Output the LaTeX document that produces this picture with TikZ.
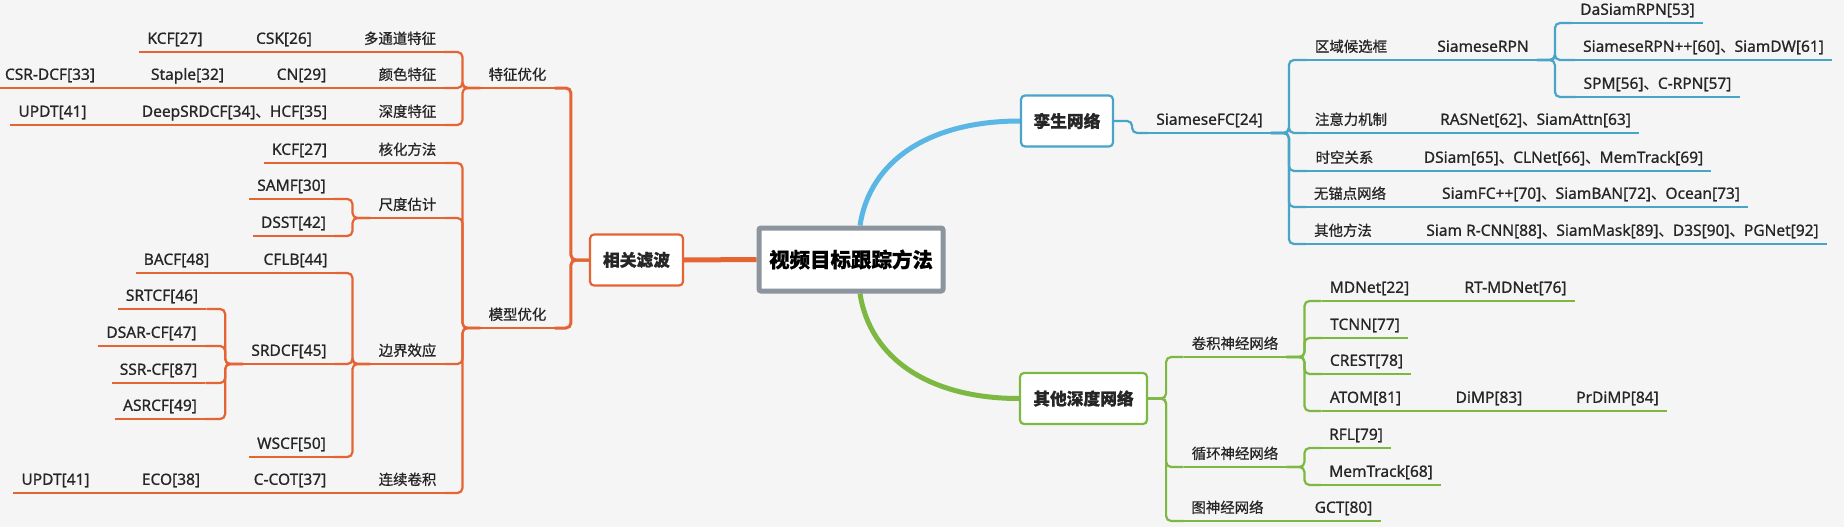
\documentclass[tikz,border=0pt]{standalone}
\usepackage{fontspec}
\setmainfont{Noto Sans}[FakeBold=0.8]
\newfontfamily\cjk[Scale=0.93, FakeBold=0.8]{Noto Sans CJK SC}
\usepackage{tikz}
\usetikzlibrary{positioning,calc}
\usepackage{xcolor}
\definecolor{orL}{RGB}{229,100,52}
\definecolor{blL}{RGB}{72,165,200}
\definecolor{blC}{RGB}{90,182,228}
\definecolor{grL}{RGB}{124,184,66}
\definecolor{grB}{RGB}{140,148,158}
\definecolor{bgc}{RGB}{245,245,245}
\definecolor{txt}{RGB}{38,38,38}
\newcommand{\dun}{{\cjk 、}}
\pgfdeclarelayer{bg}
\pgfsetlayers{bg,main}

\begin{document}
\begin{tikzpicture}[x=1pt, y=-1pt,
    tp/.style={text=txt, inner xsep=8pt, inner ysep=4pt, text height=11pt, text depth=4pt,
        anchor=south, font=\fontsize{15.5}{18}\selectfont,
        append after command={(\tikzlastnode.south west) edge[ul] (\tikzlastnode.south east)}},
    ul/.style={draw, line width=2.2pt},
    box/.style={rectangle, draw, rounded corners=4pt, line width=2.2pt, fill=white, text=txt,
        minimum height=51pt, font=\fontsize{18}{20}\selectfont\cjk\bfseries},
    ln/.style={line width=2.2pt, rounded corners=5pt},
    lc/.style={to path={-- ([xshift=-18pt]\tikztostart) |- (\tikztotarget)}},
    rc/.style={to path={-- ([xshift=18pt]\tikztostart) |- (\tikztotarget)}}
]
\useasboundingbox (0,0) rectangle (1844,527);
\begin{pgfonlayer}{bg}
\fill[bgc] (0,0) rectangle (1844,527);
\end{pgfonlayer}

% root
\node[rectangle, draw=grB, line width=5pt, rounded corners=2pt, fill=white, text=black,
    minimum width=184pt, minimum height=63pt, font=\fontsize{22}{24}\selectfont\cjk\bfseries]
    (ctr) at (851,259.5) {视频目标跟踪方法};

% correlation filter side
\begin{scope}[color=orL]
\node[box, draw=orL, minimum width=93pt] (xg) at (636.5,260) {相关滤波};
\node[tp] (tz) at (517.5,88) {\cjk 特征优化};
\node[tp] (mx) at (517.5,328) {\cjk 模型优化};
\node[tp] (a1) at (175,52) {KCF[27]};
\node[tp] (a2) at (284,52) {CSK[26]};
\node[tp] (a3) at (400,52) {\cjk 多通道特征};
\node[tp] (b1) at (50,88) {CSR-DCF[33]};
\node[tp] (b2) at (187.5,88) {Staple[32]};
\node[tp] (b3) at (301.5,88) {CN[29]};
\node[tp] (b4) at (407.5,88) {\cjk 颜色特征};
\node[tp] (c1) at (52.5,125) {UPDT[41]};
\node[tp] (c2) at (234.5,125) {DeepSRDCF[34]\dun HCF[35]};
\node[tp] (c3) at (407.5,125) {\cjk 深度特征};
\node[tp] (d1) at (299.5,163) {KCF[27]};
\node[tp] (d2) at (407.5,163) {\cjk 核化方法};
\node[tp] (e1) at (291.5,199) {SAMF[30]};
\node[tp] (f) at (407.5,218) {\cjk 尺度估计};
\node[tp] (g1) at (293.5,236) {DSST[42]};
\node[tp] (h1) at (176.5,273) {BACF[48]};
\node[tp] (h2) at (295.5,273) {CFLB[44]};
\node[tp] (i1) at (162,309) {SRTCF[46]};
\node[tp] (k1) at (151.5,346) {DSAR-CF[47]};
\node[tp] (l1) at (289,364) {SRDCF[45]};
\node[tp] (l2) at (407.5,364) {\cjk 边界效应};
\node[tp] (m1) at (158.5,383) {SSR-CF[87]};
\node[tp] (n1) at (160,419) {ASRCF[49]};
\node[tp] (o1) at (291.5,457) {WSCF[50]};
\node[tp] (p1) at (55.5,493) {UPDT[41]};
\node[tp] (p2) at (171,493) {ECO[38]};
\node[tp] (p3) at (290,493) {C-COT[37]};
\node[tp] (p4) at (407.5,493) {\cjk 连续卷积};
\end{scope}

% siamese side
\begin{scope}[color=blL]
\node[box, draw=blL, minimum width=92pt] (sx) at (1067,121) {孪生网络};
\node[tp] (r0) at (1209.5,133) {SiameseFC[24]};
\node[tp] (q1) at (1351,60) {\cjk 区域候选框};
\node[tp] (q2) at (1483,60) {SiameseRPN};
\node[tp] (u1) at (1637.5,23) {DaSiamRPN[53]};
\node[tp] (u2) at (1703.5,60) {SiameseRPN++[60]\dun SiamDW[61]};
\node[tp] (u3) at (1657.5,97) {SPM[56]\dun C-RPN[57]};
\node[tp] (q3) at (1351,133) {\cjk 注意力机制};
\node[tp] (q4) at (1535.5,133) {RASNet[62]\dun SiamAttn[63]};
\node[tp] (q5) at (1344.5,171) {\cjk 时空关系};
\node[tp] (q6) at (1563.5,171) {DSiam[65]\dun CLNet[66]\dun MemTrack[69]};
\node[tp] (q7) at (1350,207) {\cjk 无锚点网络};
\node[tp] (q8) at (1591,207) {SiamFC++[70]\dun SiamBAN[72]\dun Ocean[73]};
\node[tp] (q9) at (1343,244) {\cjk 其他方法};
\node[tp] (q10) at (1622.5,244) {Siam R-CNN[88]\dun SiamMask[89]\dun D3S[90]\dun PGNet[92]};
\end{scope}

% other deep networks side
\begin{scope}[color=grL]
\node[box, draw=grL, minimum width=127pt] (qt) at (1083.5,398.5) {其他深度网络};
\node[tp] (w1) at (1235,357) {\cjk 卷积神经网络};
\node[tp] (v1) at (1369.5,301) {MDNet[22]};
\node[tp] (v2) at (1515.5,301) {RT-MDNet[76]};
\node[tp] (v3) at (1365,338) {TCNN[77]};
\node[tp] (v4) at (1366.5,374) {CREST[78]};
\node[tp] (v5) at (1365.5,411) {ATOM[81]};
\node[tp] (v6) at (1489,411) {DiMP[83]};
\node[tp] (v7) at (1617.5,411) {PrDiMP[84]};
\node[tp] (w2) at (1235,467) {\cjk 循环神经网络};
\node[tp] (v8) at (1356,448) {RFL[79]};
\node[tp] (v9) at (1381,485) {MemTrack[68]};
\node[tp] (w3) at (1227.5,521) {\cjk 图神经网络};
\node[tp] (v10) at (1343.5,521) {GCT[80]};
\end{scope}

\begin{pgfonlayer}{bg}
% main branches
\draw[orL, line width=5pt] (ctr.west) -- (xg.east);
\draw[blC, line width=5pt] ([xshift=9pt]ctr.north) .. controls (870,160) and (930,121) .. (sx.west);
\draw[grL, line width=5pt] ([xshift=9pt]ctr.south) .. controls (870,359) and (930,398.5) .. (qt.west);

% left tree
\draw[orL, ln, line width=3pt] (xg.west) edge[lc] (tz.south east) edge[lc] (mx.south east);
\draw[orL, ln] (tz.south west) edge[lc] (a3.south east) edge[lc] (b4.south east) edge[lc] (c3.south east);
\draw[orL, ln] (a3.south west) -- (a2.south east) (a2.south west) -- (a1.south east);
\draw[orL, ln] (b4.south west) -- (b3.south east) (b3.south west) -- (b2.south east)
    (b2.south west) -- (b1.south east);
\draw[orL, ln] (c3.south west) -- (c2.south east) (c2.south west) -- (c1.south east);
\draw[orL, ln] (mx.south west) edge[lc] (d2.south east) edge[lc] (f.south east)
    edge[lc] (l2.south east) edge[lc] (p4.south east);
\draw[orL, ln] (d2.south west) -- (d1.south east);
\draw[orL, ln] (f.south west) edge[lc] (e1.south east) edge[lc] (g1.south east);
\draw[orL, ln] (l2.south west) edge[lc] (h2.south east) edge[lc] (l1.south east) edge[lc] (o1.south east);
\draw[orL, ln] (h2.south west) -- (h1.south east);
\draw[orL, ln] (l1.south west) edge[lc] (i1.south east) edge[lc] (k1.south east)
    edge[lc] (m1.south east) edge[lc] (n1.south east);
\draw[orL, ln] (p4.south west) -- (p3.south east) (p3.south west) -- (p2.south east)
    (p2.south west) -- (p1.south east);

% siamese tree
\draw[blL, ln] (sx.east) edge[rc] (r0.south west);
\draw[blL, ln] (r0.south east) edge[rc] (q1.south west) edge[rc] (q3.south west)
    edge[rc] (q5.south west) edge[rc] (q7.south west) edge[rc] (q9.south west);
\draw[blL, ln] (q1.south east) -- (q2.south west);
\draw[blL, ln] (q2.south east) edge[rc] (u1.south west) edge[rc] (u2.south west) edge[rc] (u3.south west);
\draw[blL, ln] (q3.south east) -- (q4.south west) (q5.south east) -- (q6.south west)
    (q7.south east) -- (q8.south west) (q9.south east) -- (q10.south west);

% other deep tree
\draw[grL, ln] (qt.east) edge[rc] (w1.south west) edge[rc] (w2.south west) edge[rc] (w3.south west);
\draw[grL, ln] (w1.south east) edge[rc] (v1.south west) edge[rc] (v3.south west)
    edge[rc] (v4.south west) edge[rc] (v5.south west);
\draw[grL, ln] (v1.south east) -- (v2.south west);
\draw[grL, ln] (v5.south east) -- (v6.south west) (v6.south east) -- (v7.south west);
\draw[grL, ln] (w2.south east) edge[rc] (v8.south west) edge[rc] (v9.south west);
\draw[grL, ln] (w3.south east) -- (v10.south west);
\end{pgfonlayer}
\end{tikzpicture}
\end{document}
